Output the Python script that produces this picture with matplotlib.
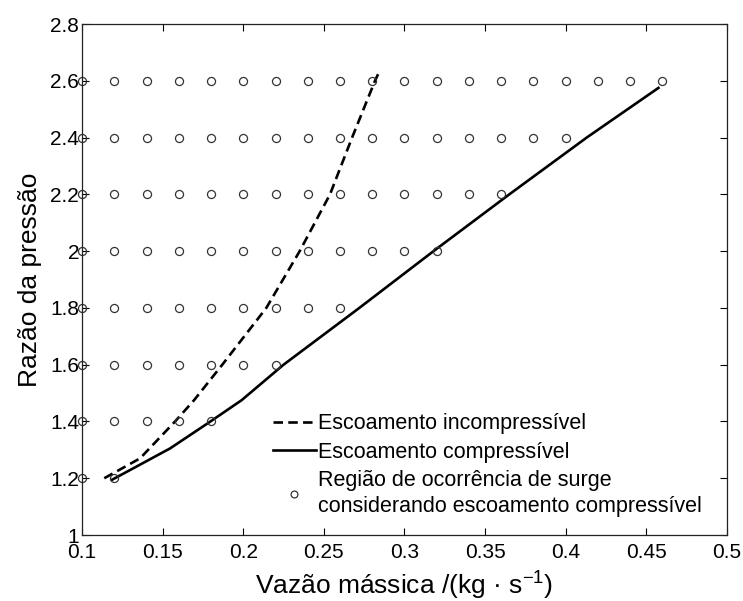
import numpy as np
import matplotlib
matplotlib.use("Agg")
import matplotlib.pyplot as plt
from matplotlib.ticker import FuncFormatter

plt.rcParams['font.family'] = ['Liberation Sans', 'DejaVu Sans']

# Incompressible-flow surge line
inc_flow = [0.1138, 0.136, 0.1577, 0.1695, 0.187, 0.2143, 0.235, 0.2538, 0.2675, 0.2817, 0.285]
inc_ratio = [1.20, 1.27, 1.40, 1.475, 1.60, 1.80, 2.00, 2.20, 2.40, 2.60, 2.64]

# Compressible-flow surge line
comp_flow = [0.1184, 0.1546, 0.1794, 0.199, 0.225, 0.272, 0.318, 0.365, 0.413, 0.4575]
comp_ratio = [1.194, 1.305, 1.399, 1.475, 1.60, 1.80, 2.00, 2.20, 2.40, 2.575]

# Operating points flagged as surge (compressible flow): pressure ratio -> last mass flow
surge_levels = [1.2, 1.4, 1.6, 1.8, 2.0, 2.2, 2.4, 2.6]
surge_max_flow = [0.12, 0.18, 0.22, 0.26, 0.32, 0.36, 0.40, 0.46]
flow_step = 0.02
flow_start = 0.10

x_ticks = [0.1, 0.15, 0.2, 0.25, 0.3, 0.35, 0.4, 0.45, 0.5]
y_ticks = [1, 1.2, 1.4, 1.6, 1.8, 2, 2.2, 2.4, 2.6, 2.8]

fig = plt.figure(figsize=(7.43, 6.01), dpi=100)
ax = fig.add_axes([0.1104, 0.1098, 0.868, 0.8502])

sx, sy = [], []
for lvl, xmax in zip(surge_levels, surge_max_flow):
    n = int(round((xmax - flow_start) / flow_step)) + 1
    for i in range(n):
        sx.append(flow_start + i * flow_step)
        sy.append(lvl)

ax.plot(inc_flow, inc_ratio, color='black', lw=1.9, dashes=(3.6, 2.0),
        label='Escoamento incompressível')
ax.plot(comp_flow, comp_ratio, color='black', lw=1.9, linestyle='-',
        label='Escoamento compressível')
ax.plot(sx, sy, linestyle='none', marker='o', markersize=5.8,
        markerfacecolor='none', markeredgecolor='#333333', markeredgewidth=0.9,
        clip_on=False,
        label='Região de ocorrência de surge\nconsiderando escoamento compressível')

ax.set_xlim(0.1, 0.5)
ax.set_ylim(1, 2.8)
ax.set_xticks(x_ticks)
ax.set_yticks(y_ticks)
fmt = FuncFormatter(lambda v, p: ('%g' % round(v, 4)))
ax.xaxis.set_major_formatter(fmt)
ax.yaxis.set_major_formatter(fmt)
ax.tick_params(direction='in', length=5, width=0.8, top=True, right=True,
               labelsize=15, colors='black')
ax.tick_params(axis='x', pad=6)
ax.tick_params(axis='y', pad=2)
for sp in ax.spines.values():
    sp.set_linewidth(0.9)
    sp.set_color('#222222')

ax.set_xlabel('Vazão mássica /(kg · s$^{\\mathregular{-1}}$)', fontsize=19, labelpad=4)
ax.set_ylabel('Razão da pressão', fontsize=19, labelpad=6)

leg = ax.legend(loc='upper left', bbox_to_anchor=(0.296, 0.238), frameon=False,
                fontsize=15.5, handlelength=2.0, handletextpad=0.1,
                labelspacing=0.35, borderaxespad=0, borderpad=0, markerscale=0.85)
leg.get_texts()[2].set_linespacing(1.3)

fig.savefig('out.png', dpi=100)
